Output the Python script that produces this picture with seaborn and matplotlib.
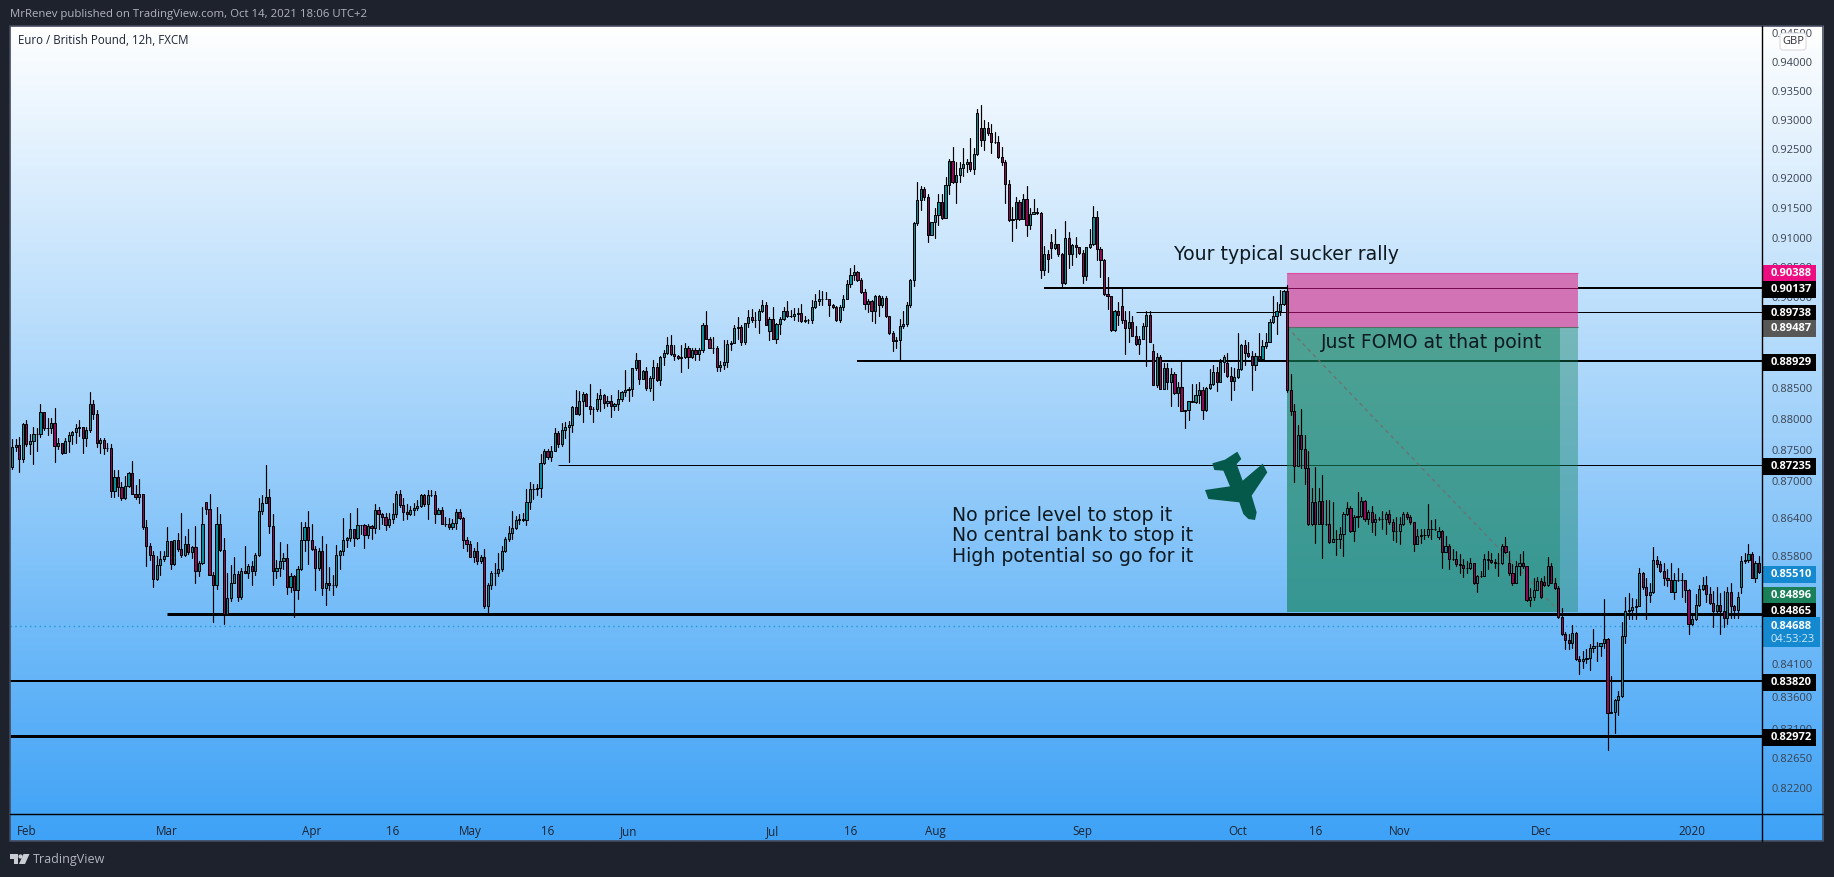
import matplotlib
matplotlib.use("Agg")
import matplotlib.pyplot as plt
import numpy as np
import pandas as pd
import seaborn as sns
from matplotlib.patches import Circle, FancyBboxPatch, Polygon, Rectangle

W, H = 1834, 878

# EUR/GBP 12h candles, in 1/10000 of a pound
closes = [
    8753, 8756, 8733, 8790, 8757, 8762, 8774, 8774, 8809, 8784,
    8784, 8791, 8754, 8759, 8743, 8762, 8772, 8777, 8784, 8786,
    8767, 8780, 8822, 8807, 8759, 8764, 8751, 8751, 8682, 8705,
    8689, 8670, 8690, 8711, 8677, 8672, 8677, 8624, 8595, 8580,
    8542, 8564, 8573, 8579, 8602, 8566, 8603, 8590, 8580, 8597,
    8584, 8592, 8554, 8568, 8629, 8653, 8548, 8532, 8629, 8588,
    8487, 8512, 8536, 8550, 8513, 8555, 8552, 8562, 8555, 8580,
    8650, 8663, 8672, 8626, 8554, 8559, 8570, 8575, 8529, 8546,
    8524, 8557, 8603, 8624, 8603, 8590, 8559, 8587, 8528, 8535,
    8532, 8533, 8580, 8586, 8603, 8607, 8621, 8607, 8628, 8628,
    8611, 8626, 8623, 8652, 8645, 8640, 8628, 8638, 8645, 8678,
    8659, 8649, 8645, 8651, 8655, 8658, 8675, 8661, 8676, 8676,
    8646, 8652, 8630, 8630, 8625, 8631, 8648, 8639, 8603, 8598,
    8577, 8587, 8570, 8577, 8499, 8533, 8552, 8552, 8557, 8587,
    8605, 8615, 8623, 8636, 8637, 8636, 8664, 8686, 8686, 8687,
    8727, 8747, 8736, 8747, 8776, 8757, 8780, 8785, 8788, 8818,
    8807, 8827, 8839, 8820, 8815, 8814, 8831, 8837, 8824, 8827,
    8820, 8822, 8831, 8842, 8846, 8847, 8881, 8894, 8864, 8876,
    8849, 8866, 8884, 8862, 8899, 8906, 8920, 8904, 8901, 8898,
    8899, 8915, 8900, 8912, 8905, 8912, 8953, 8930, 8915, 8915,
    8884, 8886, 8892, 8921, 8922, 8947, 8949, 8924, 8955, 8965,
    8960, 8960, 8975, 8986, 8953, 8963, 8930, 8954, 8963, 8976,
    8967, 8968, 8971, 8973, 8959, 8960, 8960, 8983, 8993, 8996,
    8996, 8996, 8986, 8983, 8961, 8983, 8996, 9021, 9036, 9040,
    9028, 9007, 8987, 8993, 8975, 9001, 8986, 8998, 8967, 8939,
    8926, 8927, 8950, 8954, 8986, 9027, 9123, 9161, 9181, 9167,
    9103, 9124, 9137, 9159, 9131, 9187, 9228, 9193, 9204, 9216,
    9223, 9226, 9214, 9240, 9310, 9263, 9285, 9275, 9261, 9261,
    9235, 9227, 9189, 9128, 9129, 9159, 9129, 9164, 9120, 9138,
    9142, 9139, 9044, 9070, 9063, 9081, 9087, 9071, 9022, 9098,
    9071, 9085, 9082, 9073, 9034, 9082, 9087, 9133, 9079, 9060,
    9004, 9000, 8944, 8976, 8969, 8960, 8948, 8958, 8935, 8921,
    8930, 8951, 8969, 8925, 8853, 8900, 8848, 8881, 8858, 8871,
    8841, 8850, 8812, 8813, 8828, 8826, 8838, 8845, 8813, 8849,
    8855, 8875, 8859, 8892, 8899, 8868, 8861, 8867, 8880, 8919,
    8906, 8902, 8886, 8902, 8896, 8917, 8925, 8957, 8967, 8975,
    8988, 9009, 8845, 8811, 8723, 8773, 8750, 8719, 8630, 8665,
    8630, 8666, 8629, 8629, 8600, 8606, 8606, 8613, 8645, 8655,
    8618, 8641, 8642, 8666, 8637, 8649, 8632, 8638, 8638, 8637,
    8646, 8633, 8618, 8618, 8629, 8645, 8641, 8632, 8598, 8610,
    8611, 8612, 8621, 8621, 8622, 8618, 8585, 8595, 8573, 8573,
    8565, 8564, 8559, 8559, 8567, 8535, 8547, 8547, 8573, 8572,
    8569, 8568, 8568, 8595, 8584, 8551, 8536, 8563, 8567, 8562,
    8509, 8514, 8525, 8539, 8513, 8532, 8563, 8536, 8528, 8482,
    8455, 8447, 8441, 8457, 8416, 8413, 8417, 8418, 8434, 8437,
    8437, 8442, 8448, 8333, 8334, 8353, 8359, 8453, 8492, 8493,
    8498, 8500, 8551, 8529, 8516, 8521, 8572, 8566, 8554, 8544,
    8540, 8522, 8540, 8540, 8540, 8525, 8471, 8479, 8501, 8526,
    8532, 8518, 8504, 8491, 8501, 8491, 8480, 8521, 8499, 8493,
    8513, 8570, 8572, 8582, 8544, 8567, 8553,
]
highs = [
    8766, 8766, 8769, 8792, 8796, 8774, 8786, 8784, 8822, 8809,
    8800, 8800, 8816, 8768, 8760, 8768, 8778, 8779, 8790, 8796,
    8786, 8785, 8842, 8829, 8813, 8768, 8768, 8759, 8757, 8715,
    8715, 8697, 8706, 8713, 8730, 8691, 8701, 8672, 8636, 8599,
    8586, 8578, 8587, 8587, 8625, 8602, 8603, 8615, 8647, 8610,
    8622, 8594, 8626, 8570, 8656, 8664, 8678, 8553, 8656, 8645,
    8607, 8552, 8564, 8577, 8554, 8559, 8595, 8565, 8571, 8583,
    8670, 8676, 8724, 8685, 8645, 8572, 8601, 8583, 8598, 8551,
    8548, 8562, 8633, 8633, 8650, 8630, 8594, 8591, 8610, 8597,
    8561, 8548, 8596, 8588, 8639, 8608, 8647, 8622, 8654, 8628,
    8630, 8629, 8627, 8661, 8656, 8647, 8647, 8647, 8662, 8682,
    8684, 8670, 8661, 8658, 8663, 8667, 8677, 8677, 8683, 8683,
    8682, 8654, 8656, 8640, 8639, 8637, 8653, 8653, 8641, 8608,
    8602, 8591, 8601, 8580, 8589, 8535, 8554, 8567, 8583, 8595,
    8608, 8626, 8650, 8642, 8646, 8647, 8685, 8696, 8693, 8694,
    8741, 8749, 8749, 8755, 8784, 8779, 8791, 8794, 8795, 8820,
    8846, 8844, 8843, 8841, 8855, 8818, 8840, 8847, 8839, 8836,
    8837, 8824, 8846, 8844, 8879, 8851, 8882, 8907, 8895, 8878,
    8884, 8868, 8895, 8889, 8901, 8911, 8933, 8936, 8920, 8903,
    8920, 8922, 8918, 8915, 8915, 8914, 8955, 8976, 8932, 8932,
    8917, 8893, 8927, 8927, 8926, 8952, 8965, 8952, 8956, 8977,
    8979, 8974, 8979, 8994, 8991, 8966, 8983, 8956, 8966, 8983,
    8993, 8978, 8980, 8980, 8987, 8968, 8963, 8994, 9004, 9011,
    9009, 9008, 8996, 8988, 8984, 8986, 9003, 9028, 9048, 9053,
    9042, 9031, 9012, 8995, 8994, 9002, 9003, 9000, 9001, 8967,
    8943, 8933, 8963, 8975, 8990, 9029, 9125, 9193, 9185, 9183,
    9171, 9124, 9148, 9171, 9172, 9201, 9232, 9251, 9227, 9227,
    9250, 9232, 9267, 9250, 9317, 9324, 9298, 9295, 9292, 9277,
    9271, 9251, 9229, 9195, 9150, 9167, 9161, 9171, 9186, 9148,
    9163, 9148, 9141, 9084, 9077, 9105, 9113, 9088, 9073, 9127,
    9107, 9088, 9099, 9082, 9078, 9083, 9113, 9151, 9143, 9082,
    9063, 9033, 9001, 8977, 8990, 9016, 8976, 8975, 8967, 8951,
    8934, 8956, 8976, 8975, 8921, 8906, 8903, 8889, 8889, 8882,
    8875, 8858, 8895, 8813, 8828, 8855, 8855, 8858, 8850, 8851,
    8880, 8887, 8883, 8896, 8903, 8906, 8883, 8881, 8939, 8921,
    8927, 8925, 8909, 8906, 8939, 8928, 8939, 8962, 9001, 8990,
    9010, 9010, 9019, 8871, 8823, 8789, 8815, 8773, 8746, 8687,
    8720, 8687, 8707, 8667, 8667, 8665, 8619, 8625, 8649, 8664,
    8658, 8644, 8681, 8673, 8668, 8652, 8658, 8646, 8641, 8650,
    8648, 8652, 8638, 8641, 8641, 8649, 8649, 8644, 8633, 8622,
    8621, 8621, 8661, 8636, 8638, 8625, 8619, 8610, 8598, 8590,
    8587, 8582, 8574, 8571, 8575, 8549, 8548, 8555, 8582, 8586,
    8583, 8574, 8583, 8597, 8609, 8587, 8566, 8571, 8582, 8587,
    8563, 8528, 8544, 8545, 8544, 8547, 8577, 8568, 8544, 8531,
    8497, 8458, 8455, 8470, 8458, 8421, 8429, 8432, 8440, 8464,
    8443, 8442, 8511, 8449, 8390, 8354, 8367, 8474, 8513, 8520,
    8512, 8510, 8559, 8553, 8544, 8536, 8593, 8578, 8570, 8567,
    8557, 8567, 8552, 8559, 8552, 8541, 8526, 8487, 8518, 8533,
    8545, 8546, 8529, 8523, 8529, 8520, 8523, 8529, 8536, 8501,
    8522, 8578, 8583, 8597, 8584, 8570, 8579,
]
lows = [
    8718, 8747, 8712, 8728, 8754, 8741, 8726, 8747, 8769, 8780,
    8773, 8776, 8729, 8749, 8742, 8746, 8745, 8757, 8760, 8770,
    8744, 8755, 8778, 8799, 8753, 8744, 8742, 8746, 8673, 8672,
    8674, 8667, 8669, 8689, 8677, 8669, 8662, 8621, 8563, 8572,
    8529, 8541, 8548, 8571, 8578, 8558, 8564, 8586, 8577, 8578,
    8581, 8575, 8535, 8546, 8565, 8645, 8548, 8475, 8526, 8586,
    8471, 8487, 8507, 8535, 8508, 8510, 8551, 8543, 8533, 8549,
    8579, 8646, 8662, 8615, 8532, 8543, 8546, 8558, 8519, 8522,
    8483, 8510, 8556, 8587, 8565, 8588, 8524, 8556, 8516, 8501,
    8524, 8517, 8529, 8557, 8580, 8592, 8602, 8595, 8605, 8613,
    8591, 8607, 8605, 8615, 8622, 8629, 8619, 8625, 8631, 8640,
    8656, 8635, 8637, 8643, 8644, 8652, 8657, 8658, 8637, 8674,
    8631, 8646, 8629, 8626, 8622, 8622, 8622, 8637, 8591, 8586,
    8577, 8569, 8566, 8567, 8496, 8488, 8526, 8532, 8546, 8555,
    8584, 8602, 8605, 8621, 8629, 8634, 8627, 8653, 8669, 8675,
    8673, 8725, 8733, 8731, 8746, 8753, 8755, 8768, 8728, 8777,
    8806, 8804, 8794, 8819, 8807, 8794, 8812, 8811, 8816, 8820,
    8802, 8813, 8813, 8828, 8835, 8828, 8836, 8879, 8856, 8863,
    8846, 8844, 8830, 8861, 8854, 8886, 8905, 8903, 8894, 8896,
    8875, 8898, 8881, 8898, 8895, 8895, 8908, 8929, 8914, 8906,
    8876, 8876, 8880, 8884, 8912, 8922, 8930, 8920, 8921, 8949,
    8957, 8949, 8940, 8974, 8952, 8927, 8929, 8922, 8937, 8961,
    8966, 8965, 8961, 8959, 8957, 8957, 8956, 8956, 8981, 8985,
    8985, 8995, 8968, 8980, 8959, 8957, 8977, 8995, 9016, 9028,
    9025, 9006, 8979, 8974, 8959, 8956, 8968, 8983, 8966, 8938,
    8910, 8914, 8894, 8947, 8951, 8983, 9017, 9120, 9145, 9162,
    9091, 9102, 9098, 9120, 9130, 9131, 9172, 9191, 9157, 9192,
    9203, 9210, 9211, 9205, 9238, 9253, 9247, 9273, 9241, 9259,
    9233, 9221, 9156, 9127, 9092, 9115, 9128, 9135, 9101, 9113,
    9138, 9138, 9031, 9035, 9040, 9064, 9079, 9068, 9018, 9021,
    9047, 9052, 9065, 9071, 9022, 9027, 9081, 9085, 9060, 9033,
    9003, 8979, 8943, 8942, 8953, 8956, 8905, 8925, 8934, 8920,
    8905, 8929, 8885, 8924, 8853, 8851, 8847, 8847, 8848, 8819,
    8839, 8819, 8811, 8784, 8797, 8826, 8825, 8825, 8799, 8812,
    8847, 8854, 8844, 8858, 8875, 8867, 8830, 8846, 8866, 8878,
    8886, 8900, 8846, 8879, 8895, 8903, 8915, 8924, 8955, 8938,
    8969, 8985, 8843, 8805, 8697, 8727, 8719, 8693, 8627, 8627,
    8599, 8629, 8575, 8627, 8599, 8604, 8580, 8591, 8579, 8644,
    8617, 8602, 8625, 8641, 8634, 8630, 8617, 8611, 8635, 8622,
    8614, 8630, 8603, 8601, 8598, 8627, 8638, 8630, 8586, 8597,
    8599, 8606, 8609, 8606, 8619, 8606, 8559, 8584, 8558, 8572,
    8563, 8552, 8545, 8552, 8558, 8534, 8521, 8545, 8546, 8558,
    8567, 8560, 8546, 8566, 8583, 8549, 8532, 8535, 8549, 8560,
    8508, 8499, 8509, 8524, 8512, 8531, 8531, 8535, 8526, 8481,
    8454, 8432, 8432, 8434, 8415, 8394, 8403, 8411, 8399, 8427,
    8413, 8421, 8433, 8276, 8333, 8302, 8330, 8358, 8442, 8479,
    8479, 8479, 8499, 8527, 8479, 8506, 8520, 8561, 8553, 8532,
    8531, 8521, 8510, 8539, 8513, 8505, 8455, 8470, 8478, 8500,
    8525, 8505, 8502, 8467, 8489, 8456, 8466, 8472, 8480, 8480,
    8481, 8520, 8568, 8569, 8543, 8538, 8552,
]
# candles that do not open at the previous close (weekend gaps and the like)
first_open = 8720
gap_opens = {55: 8664, 215: 8942, 275: 9285, 295: 9090, 315: 8984, 324: 8910,
             345: 8890, 405: 8608, 425: 8567, 435: 8537, 491: 8529}

month_ticks = [4, 44, 85, 108, 130, 152, 175, 216, 238, 262, 304, 348, 370, 394, 434, 477]
month_labels = ["Feb", "Mar", "Apr", "16", "May", "16", "Jun", "Jul", "16", "Aug",
                "Sep", "Oct", "16", "Nov", "Dec", "2020"]
price_ticks = [0.945, 0.94, 0.935, 0.93, 0.925, 0.92, 0.915, 0.91, 0.905, 0.90, 0.895,
               0.885, 0.88, 0.875, 0.87, 0.864, 0.858, 0.852, 0.846, 0.841, 0.836,
               0.831, 0.8265, 0.822]

# horizontal levels: price, first candle, line width in px
level_prices = [0.90137, 0.89738, 0.88929, 0.87235, 0.84865, 0.83820, 0.82972]
level_starts = [293, 319, 240, 155, 44, -1, -1]
level_widths = [2, 1, 2, 1, 3, 2, 3]

last_price = 0.84688
stop_price = 0.90388
entry_price = 0.89487
target_price = 0.84896
box_start, box_inner_end, box_end = 362, 439.5, 444.5

n = len(closes)
assert len(highs) == n and len(lows) == n, (n, len(highs), len(lows))

close_px = np.array(closes) / 10000
opens = np.r_[first_open, closes[:-1]].astype(float)
for i, v in gap_opens.items():
    opens[i] = v
open_px = opens / 10000
high_px = np.maximum.reduce([np.array(highs) / 10000, open_px, close_px])
low_px = np.minimum.reduce([np.array(lows) / 10000, open_px, close_px])
idx = np.arange(n)

wicks = pd.DataFrame({
    "candle": np.r_[idx, idx],
    "price": np.r_[low_px, high_px],
})

sns.set_theme(style="white")
plt.rcParams["font.family"] = ["Open Sans", "DejaVu Sans"]

fig = plt.figure(figsize=(W / 100, H / 100), dpi=100, facecolor="#1e222d")

# gradient panel behind everything
bg = fig.add_axes([10 / W, 1 - 842 / H, (1823 - 10) / W, (842 - 27) / H], zorder=0)
top = np.array([255, 255, 255]) / 255
bottom = np.array([62, 162, 246]) / 255
t = np.linspace(0, 1, 400)[:, None, None]
bg.imshow(top[None, None, :] * (1 - t) + bottom[None, None, :] * t, aspect="auto")
bg.axis("off")

step = (1759 - 12.3) / (n - 1)
ax = fig.add_axes([10 / W, 1 - 815 / H, (1762 - 10) / W, (815 - 27) / H], zorder=1)
ax.patch.set_alpha(0)
ax.set_yscale("log")
ax.set_xlim((10 - 12.3) / step, (1762 - 12.3) / step)
ax.set_ylim(0.8179, 0.9461)

for price, start, width in zip(level_prices, level_starts, level_widths):
    ax.hlines(price, start if start >= 0 else ax.get_xlim()[0], ax.get_xlim()[1],
              color="black", lw=width * 0.72, zorder=1)
ax.axhline(last_price, color="#1f97d8", lw=1.0, ls=(0, (1, 2.5)), zorder=1)

# short position box
ax.fill_between([box_start, box_end], entry_price, stop_price, color="#d273b6", lw=0, zorder=2)
ax.hlines(stop_price, box_start, box_end, color="#e04aa0", lw=0.8, zorder=2)
green = (20 / 255, 130 / 255, 90 / 255)
ax.fill_between([box_start, box_end], target_price, entry_price, color=green, alpha=0.4, lw=0, zorder=2)
ax.fill_between([box_start, box_inner_end], target_price, entry_price, color=green, alpha=0.4, lw=0, zorder=2)
ax.hlines(entry_price, box_start, box_end, color="#5c6b6a", lw=0.8, zorder=2)
# the lines show through the pink part only darkened
for price in level_prices[:2]:
    ax.hlines(price, box_start, box_end, color="#7a0a50", lw=0.72, zorder=2.1)
ax.plot([box_start, box_inner_end], [entry_price, target_price], color="#6f6f6f",
        lw=0.9, ls=(0, (3, 3)), zorder=2.2)

sns.lineplot(data=wicks, x="candle", y="price", units="candle", estimator=None, sort=False,
             color="black", lw=0.85, ax=ax, zorder=3, legend=False)
body_low = np.minimum(open_px, close_px)
body_high = np.maximum(open_px, close_px)
body_colors = np.where(close_px >= open_px, "#0b8a97", "#8a0a55")
ax.bar(idx, body_high - body_low, bottom=body_low, width=0.62, color=body_colors,
       edgecolor="black", linewidth=0.72, zorder=3.1)

ax.set_xlabel("")
ax.set_ylabel("")
ax.set_xticks(month_ticks, month_labels)
ax.set_yticks(price_ticks, [f"{p:.5f}" for p in price_ticks])
ax.minorticks_off()
ax.yaxis.tick_right()
ax.tick_params(axis="x", length=0, pad=7, labelsize=8.4, labelcolor="#1c2433")
ax.tick_params(axis="y", length=0, pad=7, labelsize=8, labelcolor="#3a4250")
for side in ax.spines:
    ax.spines[side].set_visible(False)
ax.grid(False)

# overlay in pixel coordinates for the annotations and the price flags
ov = fig.add_axes([0, 0, 1, 1], zorder=5)
ov.set_xlim(0, W)
ov.set_ylim(H, 0)
ov.axis("off")

ov.plot([10, 1823], [815, 815], color="black", lw=1.0)
ov.plot([1762, 1762], [27, 842], color="black", lw=1.0)
ov.add_patch(Rectangle((10, 27), 1813, 815, fill=False, edgecolor="#434a5c", lw=1.2))

note = dict(family=["DejaVu Sans"], fontsize=13.6, color="#0f1a20", va="center", ha="left")
ov.text(1174, 255, "Your typical sucker rally", **note)
ov.text(1321, 343, "Just FOMO at that point", **note)
ov.text(952, 516, "No price level to stop it", **note)
ov.text(952, 536, "No central bank to stop it", **note)
ov.text(952, 557, "High potential so go for it", **note)

plane = [(97, 103), (135, 92), (172, 68), (184, 90), (170, 105), (188, 155), (248, 104),
         (262, 130), (215, 200), (230, 250), (225, 273), (205, 270), (190, 255), (178, 220),
         (85, 210), (75, 183), (150, 172), (130, 125), (103, 123)]
ov.add_patch(Polygon([(1180 + a / 3, 430 + b / 3) for a, b in plane], closed=True,
                     facecolor="#05594a", edgecolor="none"))

flag_values = [0.90388, 0.90137, 0.89738, 0.89487, 0.88929, 0.87235, 0.85510, 0.84896, 0.84865, 0.83820, 0.82972]
flag_colors = ["#ec0e80", "black", "black", "#575757", "black", "black", "#1489d0", "#1a8059", "black", "black", "black"]
flag_rows = [274, 290, 314, 329, 363, 467, 575, 596, 612, 683, 738]
for value, color, row in zip(flag_values, flag_colors, flag_rows):
    ov.add_patch(Rectangle((1762, row - 8.5), 54, 17, facecolor=color, edgecolor="none"))
    ov.text(1791, row, f"{value:.5f}", color="white", fontsize=8, fontweight="bold",
            ha="center", va="center")
ov.add_patch(Rectangle((1762, 618), 58, 30, facecolor="#1489d0", edgecolor="none"))
ov.text(1791, 627, f"{last_price:.5f}", color="white", fontsize=8, fontweight="bold", ha="center", va="center")
ov.text(1793, 640, "04:53:23", color="#cfe8fa", fontsize=8, ha="center", va="center")

ov.add_patch(FancyBboxPatch((1780, 34), 26, 17, boxstyle="round,pad=0,rounding_size=3",
                            facecolor="#ffffff", edgecolor="#d6dae3", lw=0.8))
ov.text(1793, 42, "GBP", color="#2a2e39", fontsize=8, ha="center", va="center")

ov.text(18, 41, "Euro / British Pound, 12h, FXCM", color="#1c2433", fontsize=8.3, va="center")
ov.text(10, 14, "MrRenev published on TradingView.com, Oct 14, 2021 18:06 UTC+2",
        color="#b2b5be", fontsize=8.2, va="center")

# TradingView logo and word mark
logo = "#c9ccd3"
ov.add_patch(Polygon([(10, 855), (18, 855), (18, 865), (13.5, 865), (13.5, 860), (10, 860)],
                     closed=True, facecolor=logo, edgecolor="none"))
ov.add_patch(Circle((20.5, 857.5), 2.1, facecolor=logo, edgecolor="none"))
ov.add_patch(Polygon([(23.5, 855), (29.5, 855), (25, 865), (19, 865)], closed=True,
                     facecolor=logo, edgecolor="none"))
ov.text(33, 860, "TradingView", color="#b2b5be", fontsize=9, va="center")

fig.savefig("out.png", dpi=100, facecolor=fig.get_facecolor())
